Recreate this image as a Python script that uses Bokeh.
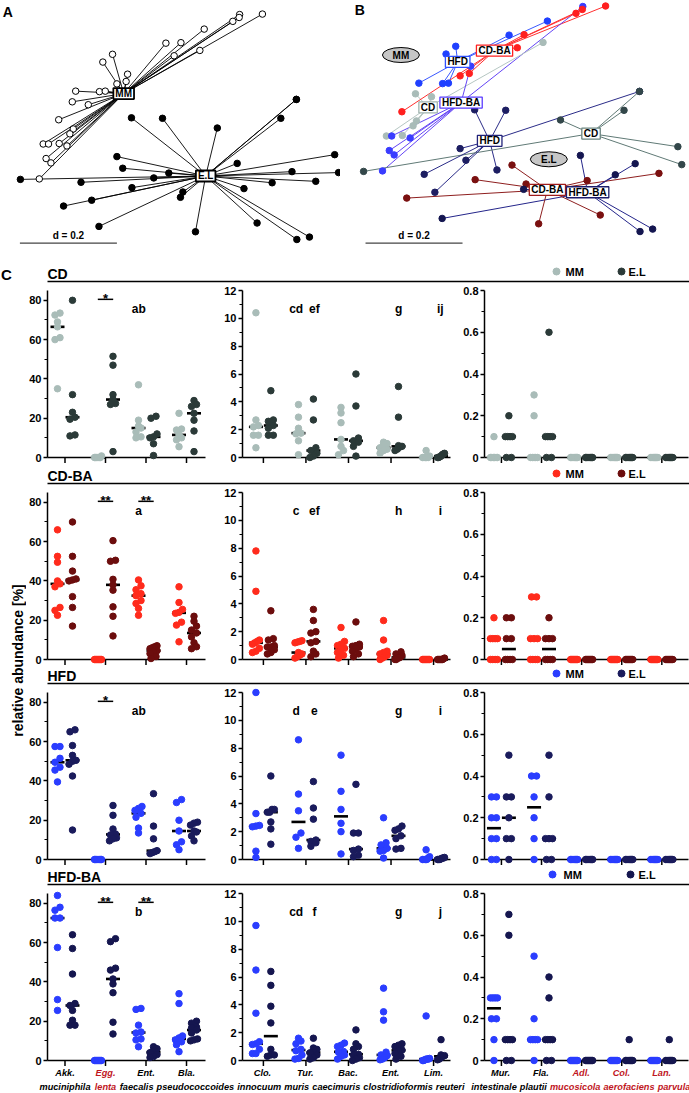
import numpy as np
from bokeh.plotting import figure
from bokeh.models import Range1d, FixedTicker, Label
from bokeh.layouts import row, column
from bokeh.embed import file_html
from bokeh.resources import INLINE
from bokeh.core.properties import value

FONT = "Liberation Sans"

# ------------------------------------------------------------------
# Ordination scores (axis 1, axis 2) of each sample, in units of d
# ------------------------------------------------------------------
MM_X = [0.128, 0.081, 0.080, 0.067, 0.008, -0.040, -0.071, -0.001, -0.054, -0.181,
        -0.201, -0.150, -0.153, -0.172, -0.257, -0.208, -0.196, -0.264, -0.231, -0.292,
        -0.262, -0.269, -0.324, -0.313, -0.291, -0.275, -0.318, -0.308, -0.332]
MM_Y = [0.247, 0.246, 0.240, 0.232, 0.216, 0.188, 0.187, 0.172, 0.161, 0.164,
        0.148, 0.123, 0.108, 0.103, 0.088, 0.087, 0.088, 0.066, 0.060, 0.029,
        0.010, 0.000, -0.021, -0.021, -0.020, -0.025, -0.051, -0.060, -0.093]
MM_DIET = ["CD-BA", "HFD-BA", "CD-BA", "CD-BA", "HFD", "CD-BA", "HFD", "CD", "CD-BA", "HFD",
           "HFD", "HFD-BA", "CD-BA", "CD-BA", "HFD", "HFD", "HFD", "CD", "CD", "CD-BA",
           "CD", "CD", "CD", "HFD-BA", "CD", "HFD-BA", "HFD-BA", "HFD-BA", "HFD-BA"]

EL_X = [0.198, 0.198, 0.166, -0.142, -0.078, 0.035, 0.277, 0.076, -0.172, -0.160,
        -0.065, -0.096, -0.371, 0.189, 0.285, -0.246, 0.238, 0.148, -0.141, 0.090,
        -0.036, -0.041, -0.224, -0.282, -0.209, -0.010, 0.117, 0.199, 0.225]
EL_Y = [0.071, 0.071, 0.032, 0.033, 0.032, 0.012, -0.043, -0.061, -0.047, -0.071,
        -0.081, -0.091, -0.094, -0.078, -0.080, -0.100, -0.098, -0.101, -0.111, -0.113,
        -0.120, -0.131, -0.137, -0.149, -0.191, -0.202, -0.184, -0.218, -0.213]
EL_DIET = ["HFD", "CD", "CD", "HFD", "HFD", "CD", "CD", "HFD-BA", "HFD", "HFD",
           "CD-BA", "HFD", "CD", "HFD-BA", "CD", "HFD", "CD-BA", "HFD-BA", "CD-BA", "CD-BA",
           "CD-BA", "HFD-BA", "HFD", "CD-BA", "HFD-BA", "CD-BA", "CD-BA", "HFD-BA", "HFD-BA"]

# class centres (group level and diet x group level)
CENTRE_GROUP = ["MM", "E.L"]
CENTRE_X = [-0.158, 0.011]
CENTRE_Y = [0.083, -0.087]

SUB_DIET = ["CD", "CD-BA", "HFD", "HFD-BA", "CD", "CD-BA", "HFD", "HFD-BA"]
SUB_GROUP = ["MM", "MM", "MM", "MM", "E.L", "E.L", "E.L", "E.L"]
SUB_X = [-0.238, -0.101, -0.177, -0.170, 0.098, 0.008, -0.111, 0.091]
SUB_Y = [0.038, 0.155, 0.132, 0.048, -0.016, -0.132, -0.031, -0.137]

OVAL_TEXT = ["MM", "E.L"]
OVAL_X = [-0.294, 0.011]
OVAL_Y = [0.146, -0.069]

# ------------------------------------------------------------------
# Relative abundance [%] per taxon (MM and E.L mice, four diets)
# ------------------------------------------------------------------
GENUS = ["Akk.", "Egg.", "Ent.", "Bla.", "Clo.", "Tur.", "Bac.", "Ent.", "Lim.",
         "Mur.", "Fla.", "Adl.", "Col.", "Lan."]
EPITHET = ["muciniphila", "lenta", "faecalis", "pseudococcoides", "innocuum", "muris",
           "caecimuris", "clostridioformis", "reuteri", "intestinale", "plautii",
           "mucosicola", "aerofaciens", "parvula"]
HIGHLIGHT = [False, True, False, False, False, False, False, False, False,
             False, False, True, True, True]

CD_MM = [
    [73.5, 72.5, 69, 66.5, 61, 60, 35],
    [0, 0, 0, 0, 0, 0, 0.8],
    [37, 19, 16, 15, 13, 10.5, 10],
    [22.5, 14.5, 14, 11.5, 10, 9, 5.5],
    [10.4, 2.7, 2.3, 2.2, 1.6, 1.6, 0.7],
    [3.8, 2.9, 2.1, 1.75, 1.7, 1.2, 0.2],
    [3.6, 3.2, 2.5, 1.3, 0.8, 0.5, 0.2],
    [1.1, 1.0, 0.9, 0.7, 0.6, 0.5, 0.3],
    [0.5, 0.1, 0, 0, 0, 0, 0],
    [0.1, 0, 0, 0, 0, 0, 0],
    [0.3, 0.2, 0, 0, 0, 0, 0],
    [0, 0, 0, 0, 0, 0, 0],
    [0, 0, 0, 0, 0, 0, 0],
    [0, 0, 0, 0, 0, 0, 0],
]
CD_EL = [
    [80, 32, 23, 20.5, 19.5, 11.5, 11],
    [51.5, 47, 32, 29.5, 27.5, 27, 3],
    [21, 20, 12, 10.5, 10, 7, 1],
    [29, 27, 26, 22.5, 19, 13.5, 3],
    [4.8, 2.7, 2.6, 2.3, 2.1, 1.6, 1.6],
    [4.2, 2.7, 0.7, 0.5, 0.3, 0.1, 0],
    [6.0, 3.7, 1.4, 1.2, 1.1, 0.8, 0.1],
    [5.1, 2.9, 0.85, 0.8, 0.75, 0.6, 0.5],
    [0.3, 0.25, 0.2, 0.1, 0.05, 0, 0],
    [0.2, 0.1, 0.1, 0.1, 0.1, 0, 0],
    [0.6, 0.1, 0.1, 0.1, 0.1, 0, 0],
    [0, 0, 0, 0, 0, 0, 0],
    [0, 0, 0, 0, 0, 0, 0],
    [0, 0, 0, 0, 0, 0, 0],
]
CDBA_MM = [
    [66, 52.5, 49.5, 40, 38.5, 37, 26.5, 25, 22.5],
    [0, 0, 0, 0, 0, 0, 0, 0, 0],
    [40.5, 37.5, 35.5, 33.5, 32.5, 30, 28.5, 26, 22.5],
    [37, 29, 25.5, 24, 23.5, 19, 17.5, 9],
    [7.8, 4.9, 1.4, 1.3, 1.2, 1.1, 0.8, 0.6, 0.5],
    [1.35, 1.3, 1.25, 1.2, 0.5, 0.4, 0.3, 0.2, 0.1],
    [2.3, 1.3, 1.1, 1.0, 0.8, 0.7, 0.5, 0.3, 0.1],
    [2.8, 1.4, 0.6, 0.5, 0.4, 0.3, 0.2, 0.1, 0],
    [0, 0, 0, 0, 0, 0, 0, 0, 0],
    [0.2, 0.1, 0.1, 0.1, 0.1, 0, 0, 0, 0],
    [0.3, 0.3, 0.1, 0.1, 0.1, 0, 0, 0, 0],
    [0, 0, 0, 0, 0, 0, 0, 0, 0],
    [0, 0, 0, 0, 0, 0, 0, 0, 0],
    [0, 0, 0, 0, 0, 0, 0, 0, 0],
]
CDBA_EL = [
    [70, 52.5, 45, 41, 40.5, 40, 32, 26.5, 17],
    [60.5, 50.5, 50, 40.8, 38, 35.3, 26.8, 22, 12],
    [7, 6.5, 6, 5.5, 4.5, 4, 3, 1.5, 0.5],
    [22, 19.5, 17, 15, 13.5, 11.5, 8.5, 6.5, 5.5],
    [3.5, 1.5, 1.4, 1.0, 0.9, 0.9, 0.7, 0.5, 0.4],
    [3.6, 2.8, 2.0, 1.9, 1.3, 1.2, 0.6, 0.4, 0.2],
    [2.7, 1.1, 1.0, 0.95, 0.9, 0.8, 0.6, 0.4, 0.2],
    [0.55, 0.4, 0.3, 0.2, 0.15, 0.1, 0.1, 0, 0],
    [0.1, 0.05, 0, 0, 0, 0, 0, 0],
    [0.2, 0.2, 0.1, 0.1, 0, 0, 0, 0],
    [0.2, 0.1, 0.1, 0.1, 0, 0, 0, 0],
    [0, 0, 0, 0, 0, 0, 0, 0],
    [0, 0, 0, 0, 0, 0, 0, 0],
    [0, 0, 0, 0, 0, 0, 0, 0],
]
HFD_MM = [
    [57.5, 57.5, 51.5, 49.5, 47, 45.5, 39.5],
    [0, 0, 0, 0, 0, 0, 0],
    [27, 26, 25, 23.5, 21.5, 16, 13.5],
    [30.5, 29, 20, 14.5, 9, 7.5, 5],
    [12, 3.3, 2.45, 2.4, 2.35, 0.6, 0.15],
    [8.6, 4.7, 3.5, 1.9, 1.6, 0.8],
    [7.5, 4.9, 3.6, 2.6, 2.0, 0.4],
    [3.0, 1.2, 1.05, 0.8, 0.65, 0.6, 0.1],
    [0.7, 0.2, 0.1, 0, 0, 0, 0],
    [0.3, 0.3, 0.2, 0.2, 0.1, 0.1, 0, 0],
    [0.4, 0.4, 0.3, 0.2, 0.1, 0],
    [0, 0, 0, 0, 0, 0, 0],
    [0, 0, 0, 0, 0, 0, 0],
    [0, 0, 0, 0, 0, 0, 0],
]
HFD_EL = [
    [66, 65, 58, 53, 50.5, 50, 48.5, 42.5, 15],
    [27.5, 22.5, 15.5, 13, 12.5, 11, 10.5, 9.5],
    [33.5, 17, 10.5, 4.5, 4, 3.5, 3],
    [19, 18.5, 17.5, 14.5, 14, 12, 9.5],
    [6, 3.6, 3.6, 3.4, 3.4, 2.7, 2.2, 1.1],
    [5.6, 3.7, 2.9, 1.4, 1.3, 1.2, 0.95],
    [5.4, 1.9, 1.9, 0.75, 0.65, 0.3, 0.2],
    [2.4, 2.2, 2.1, 1.7, 1.5, 0.8, 0.75],
    [0.15, 0.1, 0.1, 0.05, 0, 0, 0],
    [0.5, 0.3, 0.3, 0.2, 0.1, 0.1, 0],
    [0.5, 0.3, 0.1, 0.1, 0.1, 0, 0],
    [0, 0, 0, 0, 0, 0, 0],
    [0, 0, 0, 0, 0, 0, 0],
    [0, 0, 0, 0, 0, 0, 0],
]
HFDBA_MM = [
    [84, 78, 76.5, 72.5, 72.5, 57.5, 31, 25.5],
    [0, 0, 0, 0, 0, 0, 0, 0],
    [26.5, 26, 18, 14.5, 14, 11, 10.5, 7],
    [34, 29, 12.5, 11.5, 10.5, 9.5, 8, 4.5],
    [9.7, 6.5, 3.4, 1.35, 1.2, 1.15, 0.8, 0.5, 0.5],
    [1.6, 1.4, 1.2, 0.8, 0.7, 0.4, 0.15, 0.1],
    [1.25, 1.1, 1.0, 0.65, 0.6, 0.4, 0.3, 0.1],
    [5.2, 3.5, 2.9, 0.6, 0.4, 0.35, 0.2, 0.1, 0.05],
    [3.2, 0.15, 0.1, 0.1, 0.1, 0.05, 0, 0],
    [0.3, 0.3, 0.3, 0.3, 0.2, 0.2, 0.1, 0],
    [0.5, 0.2, 0.1, 0.1, 0.1, 0.1, 0],
    [0, 0, 0, 0, 0, 0, 0, 0],
    [0, 0, 0, 0, 0, 0, 0, 0],
    [0, 0, 0, 0, 0, 0, 0, 0],
]
HFDBA_EL = [
    [64, 57, 44, 29, 28, 25.5, 20.5, 18, 18],
    [62, 60.5, 47, 46, 41.5, 39, 34.5, 19.5, 13.5],
    [7, 6, 5, 4.5, 4, 3, 2, 1.5],
    [20, 19, 17, 16.5, 15.5, 14, 11, 10.5, 10],
    [6.4, 5.4, 3.9, 2.7, 0.8, 0.4, 0.4, 0.3],
    [1.6, 0.9, 0.8, 0.6, 0.55, 0.4, 0.2, 0.1],
    [2.2, 1.2, 1.0, 0.8, 0.45, 0.4, 0.2, 0.1, 0],
    [1.2, 1.1, 1.0, 0.75, 0.7, 0.5, 0.3, 0.1],
    [1.5, 0.4, 0.35, 0.3, 0.2, 0.1, 0.05],
    [0.7, 0.6, 0.1, 0.1, 0.1, 0.1, 0, 0],
    [0.4, 0.3, 0.1, 0.1, 0.1, 0.1, 0, 0],
    [0, 0, 0, 0, 0, 0, 0, 0],
    [0.1, 0, 0, 0, 0, 0, 0, 0],
    [0.1, 0, 0, 0, 0, 0, 0, 0],
]

DIETS = ["CD", "CD-BA", "HFD", "HFD-BA"]
ABUNDANCE = {"CD": (CD_MM, CD_EL), "CD-BA": (CDBA_MM, CDBA_EL),
             "HFD": (HFD_MM, HFD_EL), "HFD-BA": (HFDBA_MM, HFDBA_EL)}

# pairwise tests (taxon index, stars) and letter groupings
SIGNIF = {"CD": [(1, "*")], "CD-BA": [(1, "**"), (2, "**")],
          "HFD": [(1, "*")], "HFD-BA": [(1, "**"), (2, "**")]}
LETTERS_LEFT = {"CD": "ab", "CD-BA": "a", "HFD": "ab", "HFD-BA": "b"}
LETTERS_MID = {"CD": ["cd", "ef", "g", "ij"], "CD-BA": ["c", "ef", "h", "i"],
               "HFD": ["d", "e", "g", "i"], "HFD-BA": ["cd", "f", "g", "j"]}
LETTERS_MID_X = [0.77, 1.2, 3.18, 4.16]

# ------------------------------------------------------------------
# Styling
# ------------------------------------------------------------------
ROW_COLORS = {
    "CD": ("#a9bcb8", "#2b3a38"),
    "CD-BA": ("#ff2b1c", "#6c0d0d"),
    "HFD": ("#2a3dff", "#1a1b5c"),
    "HFD-BA": ("#2a3dff", "#15164f"),
}
# (dot colour, spoke colour, box outline) for diet x group classes
CLASS_COLORS = {
    ("CD", "MM"): ("#a9bcb8", "#b5c6c2", "#9fb3ae"),
    ("CD-BA", "MM"): ("#ff1f1f", "#ff3030", "#ff2020"),
    ("HFD", "MM"): ("#2040ff", "#3a58ff", "#3050ff"),
    ("HFD-BA", "MM"): ("#3a3cff", "#6445f5", "#5a3cff"),
    ("CD", "E.L"): ("#33474a", "#607a76", "#6b8580"),
    ("CD-BA", "E.L"): ("#7a1010", "#8e1f1f", "#a01c1c"),
    ("HFD", "E.L"): ("#1d1e62", "#2b2c88", "#22237a"),
    ("HFD-BA", "E.L"): ("#141650", "#24258a", "#1c1d6a"),
}
RED_TEXT = "#c0161e"
# advance widths (em) of the bold face, used to size boxes and space names
BOLD_W = {"M": 0.833, "E": 0.667, "L": 0.611, ".": 0.278, "C": 0.722, "D": 0.722,
          "-": 0.333, "B": 0.722, "A": 0.722, "H": 0.722, "F": 0.611,
          "a": 0.556, "b": 0.611, "c": 0.556, "d": 0.611, "e": 0.556, "f": 0.333,
          "h": 0.611, "i": 0.278, "l": 0.278, "m": 0.889, "n": 0.611, "o": 0.611,
          "p": 0.611, "r": 0.389, "s": 0.556, "t": 0.333, "u": 0.611, "v": 0.556}

FRAME_H = 167
PANELS = [
    (0, 4, 85, [0, 20, 40, 60, 80], [10, 30, 50, 70]),
    (4, 9, 12, [0, 2, 4, 6, 8, 10, 12], [1, 3, 5, 7, 9, 11]),
    (9, 14, 0.8, [0, 0.2, 0.4, 0.6, 0.8], [0.1, 0.3, 0.5, 0.7]),
]
# figure width, left border, right border, x-range; and left edge on the page
GEOM = [
    (195, 21, 16, (-0.432, 3.469)),
    (239, 20, 10, (-0.491, 4.398)),
    (229, 23, 1, (-0.422, 4.665)),
]
FIG_LEFT = [26, 221, 460]
RIGHT_W = 663
NAME_SIZE = 9.2


def text_width(s, size):
    return size * sum(BOLD_W.get(ch, 0.6) for ch in s)


def bare(w, h, xr, yr):
    p = figure(width=w, height=h, x_range=Range1d(*xr), y_range=Range1d(*yr),
               x_axis_location=None, y_axis_location=None,
               output_backend="svg", toolbar_location=None, min_border=0)
    p.grid.visible = False
    p.outline_line_color = None
    p.background_fill_color = "white"
    p.border_fill_color = "white"
    return p


def add_label(p, x, y, text, size, color="black", align="center", baseline="middle",
              style="bold", angle=0.0):
    p.add_layout(Label(x=x, y=y, text=text, text_font=FONT, text_font_size=f"{size}px",
                       text_font_style=style, text_color=color, text_align=align,
                       text_baseline=baseline, angle=angle))


def boxes(p, xs, ys, texts, outline, lw):
    p.rect(x=xs, y=ys, width=[text_width(t, 10) + 4 for t in texts], height=11,
           width_units="screen", height_units="screen",
           fill_color="white", line_color=outline, line_width=lw)
    p.text(x=xs, y=ys, text=texts, text_font=value(FONT), text_font_size="10px",
           text_font_style="bold", text_align="center", text_baseline="middle",
           text_color="black")


# ------------------------------------------------------------------
# A: samples by inoculum
# ------------------------------------------------------------------
pa = bare(340, 255, (-0.412, 0.289), (-0.251, 0.275))
gx = dict(zip(CENTRE_GROUP, CENTRE_X))
gy = dict(zip(CENTRE_GROUP, CENTRE_Y))
pa.segment(x0=MM_X, y0=MM_Y, x1=[gx["MM"]] * len(MM_X), y1=[gy["MM"]] * len(MM_Y),
           line_color="black", line_width=0.9)
pa.segment(x0=EL_X, y0=EL_Y, x1=[gx["E.L"]] * len(EL_X), y1=[gy["E.L"]] * len(EL_Y),
           line_color="black", line_width=0.9)
pa.scatter(MM_X, MM_Y, size=6.5, fill_color="white", line_color="black", line_width=1)
pa.scatter(EL_X, EL_Y, size=6.5, color="black")
boxes(pa, CENTRE_X, CENTRE_Y, CENTRE_GROUP, "black", 1.8)
pa.segment(x0=[-0.372], y0=[-0.2253], x1=[-0.172], y1=[-0.2253], line_color="#444444",
           line_width=1.3)
add_label(pa, -0.272, -0.2095, "d = 0.2", 10)
add_label(pa, -0.397, 0.251, "A", 14)

# ------------------------------------------------------------------
# B: samples by inoculum and diet
# ------------------------------------------------------------------
pb = bare(349, 255, (-0.4186, 0.301), (-0.2674, 0.2584))
pb.ellipse(x=OVAL_X, y=OVAL_Y, width=37, height=15, width_units="screen",
           height_units="screen", fill_color="#c6c6c6", line_color="black", line_width=1)
pb.text(x=OVAL_X, y=OVAL_Y, text=OVAL_TEXT, text_font=value(FONT), text_font_size="10px",
        text_font_style="bold", text_align="center", text_baseline="middle")
sub = {(d, g): (x, y) for d, g, x, y in zip(SUB_DIET, SUB_GROUP, SUB_X, SUB_Y)}
sx0, sy0, sx1, sy1, scol, dcol = [], [], [], [], [], []
for xs, ys, diets, grp in ((MM_X, MM_Y, MM_DIET, "MM"), (EL_X, EL_Y, EL_DIET, "E.L")):
    for x, y, d in zip(xs, ys, diets):
        cx, cy = sub[(d, grp)]
        sx0.append(x); sy0.append(y); sx1.append(cx); sy1.append(cy)
        scol.append(CLASS_COLORS[(d, grp)][1])
        dcol.append(CLASS_COLORS[(d, grp)][0])
pb.segment(x0=sx0, y0=sy0, x1=sx1, y1=sy1, line_color=scol, line_width=1)
pb.scatter(sx0, sy0, size=6.5, color=dcol)
boxes(pb, SUB_X, SUB_Y, SUB_DIET,
      [CLASS_COLORS[(d, g)][2] for d, g in zip(SUB_DIET, SUB_GROUP)], 1.3)
pb.segment(x0=[-0.367], y0=[-0.242], x1=[-0.167], y1=[-0.242], line_color="#444444",
           line_width=1.3)
add_label(pb, -0.267, -0.226, "d = 0.2", 10)
add_label(pb, -0.379, 0.238, "B", 14)


# ------------------------------------------------------------------
# C: relative abundance column scatters
# ------------------------------------------------------------------
def spread(vals, ypx):
    """Sideways offsets (px) for dots that would overlap in a column scatter."""
    vals = np.asarray(vals, float)
    order = np.argsort(vals, kind="stable")
    offs = np.zeros(len(vals))
    groups, cur = [], [order[0]]
    for idx in order[1:]:
        if (vals[idx] - vals[cur[0]]) * ypx < 4.5:
            cur.append(idx)
        else:
            groups.append(cur)
            cur = [idx]
    groups.append(cur)
    for g in groups:
        n = len(g)
        if n > 1:
            step = min(5.0, 7.0 / (n - 1))
            for k, idx in enumerate(g):
                offs[idx] = (k - (n - 1) / 2) * step
    return offs


def style_axes(p, ticks, minor):
    for ax in p.axis:
        ax.axis_line_color = "black"
        ax.axis_line_width = 1.5
        ax.major_tick_line_color = "black"
        ax.major_tick_line_width = 1.5
        ax.major_tick_in = 0
        ax.minor_tick_in = 0
        ax.major_label_text_font = FONT
        ax.major_label_text_font_style = "bold"
        ax.major_label_text_font_size = "11px"
        ax.major_label_text_color = "black"
    yax = p.yaxis[0]
    yax.ticker = FixedTicker(ticks=ticks, minor_ticks=minor)
    yax.major_tick_out = 4
    yax.minor_tick_out = 3
    yax.minor_tick_line_color = "black"
    yax.minor_tick_line_width = 1.2
    yax.major_label_standoff = 2
    yax.major_label_overrides = {0: "0"}
    xax = p.xaxis[0]
    # category ticks are drawn as marks below, the axis only keeps its line
    xax.ticker = FixedTicker(ticks=[])
    xax.major_tick_out = 0
    xax.minor_tick_out = 0
    xax.major_label_standoff = 0


def dot_row(diet):
    mm, el = ABUNDANCE[diet]
    c_mm, c_el = ROW_COLORS[diet]
    figs = []
    for k in range(3):
        lo, hi, ytop, ticks, minor = PANELS[k]
        w, bl, br, xr = GEOM[k]
        p = figure(width=w, height=179, x_range=Range1d(*xr), y_range=Range1d(0, ytop),
                   output_backend="svg", toolbar_location=None,
                   min_border_left=bl, min_border_right=br,
                   min_border_top=6, min_border_bottom=6)
        p.grid.visible = False
        p.outline_line_color = None
        style_axes(p, ticks, minor)
        xpx = (w - bl - br) / (xr[1] - xr[0])
        ypx = FRAME_H / ytop
        dx = 7.5 / xpx
        n = hi - lo
        p.segment(x0=list(range(n)), y0=[0] * n, x1=list(range(n)), y1=[-5.5 / ypx] * n,
                  line_color="black", line_width=1.5, level="overlay")
        pts = {"mm": ([], []), "el": ([], [])}
        med_x, med_y = [], []
        for j, t in enumerate(range(lo, hi)):
            for key, vals, sign in (("mm", mm[t], -1), ("el", el[t], 1)):
                centre = j + sign * dx
                offs = spread(vals, ypx)
                pts[key][0].extend(centre + o / xpx for o in offs)
                pts[key][1].extend(vals)
                med_x.append(centre)
                med_y.append(float(np.median(vals)))
        p.scatter(med_x, med_y, marker="dash", size=14, line_width=2.6,
                  line_color="black", level="overlay")
        p.scatter(pts["mm"][0], pts["mm"][1], size=6.5, color=c_mm, level="overlay")
        p.scatter(pts["el"][0], pts["el"][1], size=6.5, color=c_el, level="overlay")

        if k == 0:
            for t, stars in SIGNIF[diet]:
                p.segment(x0=[t - 0.19], y0=[80.5], x1=[t + 0.19], y1=[80.5],
                          line_color="black", line_width=1.5, level="overlay")
                add_label(p, t, 80.5 + 1.2 / ypx, stars, 13)
            add_label(p, 1.82, 75.8, LETTERS_LEFT[diet], 12)
        elif k == 1:
            for txt, x in zip(LETTERS_MID[diet], LETTERS_MID_X):
                add_label(p, x, 10.7, txt, 12)
        figs.append(p)
    return row(*figs, spacing=0)


def header(h, line_y, diet, legend_x):
    p = bare(RIGHT_W, h, (0, RIGHT_W), (h, 0))
    p.segment(x0=[21], y0=[line_y], x1=[RIGHT_W], y1=[line_y], line_color="black",
              line_width=1.5)
    add_label(p, 21, line_y - 8, diet, 14, align="left")
    c_mm, c_el = ROW_COLORS[diet]
    d1, t1, d2, t2 = legend_x
    ly = line_y - 10
    p.scatter([d1, d2], [ly, ly], size=7, color=[c_mm, c_el])
    add_label(p, t1, ly, "MM", 11, align="left")
    add_label(p, t2, ly, "E.L", 11, align="left")
    return p


def pack(centres, widths, gap=3.0):
    """Push neighbouring names apart until none of them overlap."""
    pos = list(centres)
    for _ in range(300):
        moved = False
        for i in range(len(pos) - 1):
            need = (widths[i] + widths[i + 1]) / 2 + gap
            d = pos[i + 1] - pos[i]
            if d < need - 1e-6:
                shift = (need - d) / 2
                pos[i] -= shift
                pos[i + 1] += shift
                moved = True
        if not moved:
            break
    return pos


HEAD_H = [29, 23, 21, 22]
HEAD_LINE = [26, 20, 18, 19]
LEGEND_X = [(530, 539, 595, 602), (530, 539, 595, 602), (530, 539, 595, 602),
            (526, 537, 604, 612)]

# taxon names under the last row
names = bare(RIGHT_W, 27, (0, RIGHT_W), (27, 0))
tick_px = []
for k in range(3):
    lo, hi, _, _, _ = PANELS[k]
    w, bl, br, xr = GEOM[k]
    xpx = (w - bl - br) / (xr[1] - xr[0])
    for j in range(hi - lo):
        tick_px.append(FIG_LEFT[k] + bl + (j - xr[0]) * xpx - FIG_LEFT[0])
second = pack(tick_px, [text_width(s, NAME_SIZE) for s in EPITHET])
for t in range(len(GENUS)):
    col = RED_TEXT if HIGHLIGHT[t] else "black"
    add_label(names, tick_px[t], 6.5, GENUS[t], NAME_SIZE, color=col, style="bold italic")
    add_label(names, second[t], 20.5, EPITHET[t], NAME_SIZE, color=col, style="bold italic")

blocks = []
for r, diet in enumerate(DIETS):
    blocks.append(header(HEAD_H[r], HEAD_LINE[r], diet, LEGEND_X[r]))
    blocks.append(dot_row(diet))
blocks.append(names)
right = column(*blocks, spacing=0)

strip = bare(26, 838, (0, 26), (838, 0))
add_label(strip, 0.5, 19, "C", 15, align="left")
add_label(strip, 17, 405, "relative abundance [%]", 14, angle=np.pi / 2)

page = column(row(pa, pb, spacing=0), row(strip, right, spacing=0), spacing=0)
open("out.html", "w").write(file_html(page, INLINE))
